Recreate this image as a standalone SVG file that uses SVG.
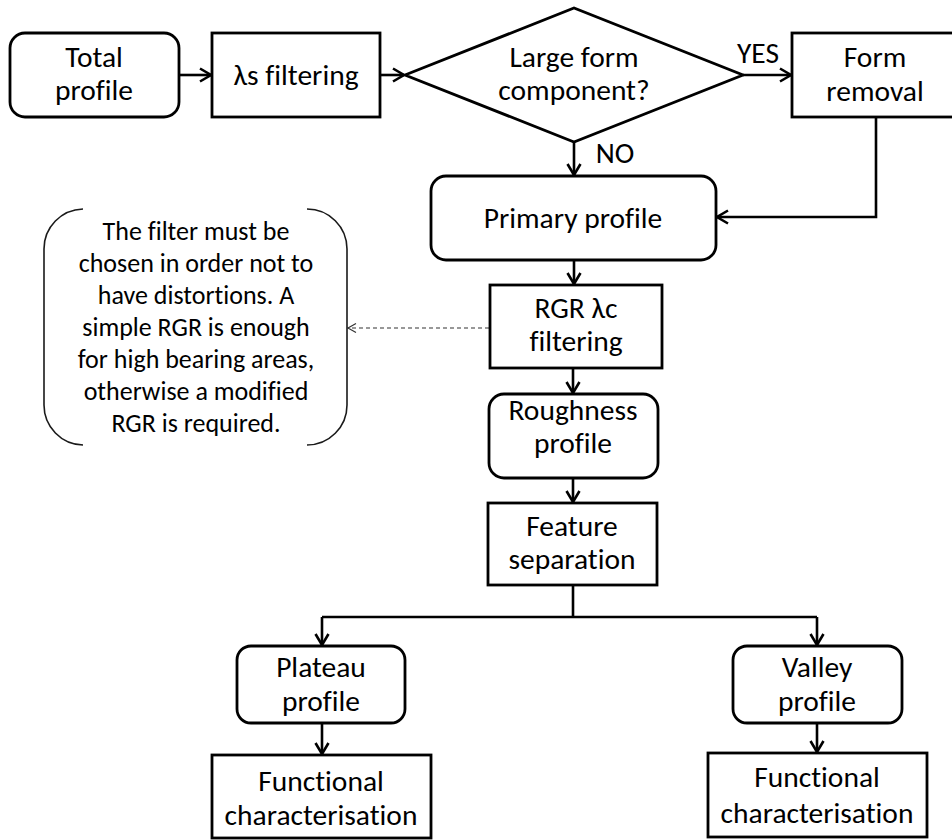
<svg xmlns="http://www.w3.org/2000/svg" width="952" height="840" viewBox="0 0 952 840">
  <style>
    .box { fill: #ffffff; stroke: #000000; stroke-width: 2.8; }
    .lbl { font-family: Carlito, Lato, "Liberation Sans", sans-serif; font-size: 29.5px; fill: #000000; text-anchor: middle; font-variant-ligatures: none; }
    .ntxt { font-family: Carlito, Lato, "Liberation Sans", sans-serif; font-size: 26px; fill: #000000; text-anchor: middle; font-variant-ligatures: none; }
    .edge { fill: none; stroke: #000000; stroke-width: 2.6; }
    .note { fill: none; stroke: #1a1a1a; stroke-width: 1.6; }
    .dash { fill: none; stroke: #333333; stroke-width: 1.2; stroke-dasharray: 4 3; }
  </style>
  <defs>
    <marker id="arrow" markerUnits="userSpaceOnUse" viewBox="-14 -9 16 18" refX="0" refY="0" markerWidth="16" markerHeight="18" orient="auto" overflow="visible">
      <path d="M-11,-6.5 L0,0 L-11,6.5" fill="none" stroke="#000000" stroke-width="2.6" stroke-linejoin="miter"/>
    </marker>
    <marker id="arrowThin" markerUnits="userSpaceOnUse" viewBox="-10 -6 12 12" refX="0" refY="0" markerWidth="12" markerHeight="12" orient="auto" overflow="visible">
      <path d="M-8,-4.5 L0,0 L-8,4.5" fill="none" stroke="#333333" stroke-width="1.2"/>
    </marker>
  </defs>
  <rect width="952" height="840" fill="#ffffff"/>

  <!-- connectors -->
  <g id="connectors">
    <line class="edge" x1="179" y1="75" x2="211" y2="75" marker-end="url(#arrow)"/>
    <line class="edge" x1="380" y1="75" x2="404" y2="75" marker-end="url(#arrow)"/>
    <line class="edge" x1="743" y1="75" x2="791" y2="75" marker-end="url(#arrow)"/>
    <line class="edge" x1="574" y1="142" x2="574" y2="175" marker-end="url(#arrow)"/>
    <path class="edge" d="M876,117 V217 H717" marker-end="url(#arrow)"/>
    <line class="edge" x1="574" y1="260" x2="574" y2="284" marker-end="url(#arrow)"/>
    <line class="dash" x1="489" y1="328" x2="348" y2="328" marker-end="url(#arrowThin)"/>
    <line class="edge" x1="573" y1="368" x2="573" y2="393" marker-end="url(#arrow)"/>
    <line class="edge" x1="573" y1="478" x2="573" y2="502" marker-end="url(#arrow)"/>
    <path class="edge" d="M573,585 V617"/>
    <path class="edge" d="M322,617 H817"/>
    <line class="edge" x1="322" y1="617" x2="322" y2="645" marker-end="url(#arrow)"/>
    <line class="edge" x1="817" y1="617" x2="817" y2="645" marker-end="url(#arrow)"/>
    <line class="edge" x1="322" y1="723" x2="322" y2="754" marker-end="url(#arrow)"/>
    <line class="edge" x1="817" y1="723" x2="817" y2="752" marker-end="url(#arrow)"/>
  </g>

  <g id="total-profile">
    <rect class="box" x="10" y="33" width="169" height="84" rx="15"/>
    <text class="lbl" x="94" y="67">Total</text>
    <text class="lbl" x="94" y="100">profile</text>
  </g>

  <g id="ls-filtering">
    <rect class="box" x="212" y="33" width="168" height="84"/>
    <text class="lbl" x="296" y="85">λs filtering</text>
  </g>

  <g id="large-form">
    <polygon class="box" points="405,75 574,8 743,75 574,142"/>
    <text class="lbl" x="574" y="67">Large form</text>
    <text class="lbl" x="574" y="100">component?</text>
  </g>

  <g id="yes-label">
    <text class="lbl" x="758" y="63">YES</text>
  </g>
  <g id="no-label">
    <text class="lbl" x="615" y="163">NO</text>
  </g>

  <g id="form-removal">
    <rect class="box" x="792" y="33" width="166" height="84"/>
    <text class="lbl" x="875" y="67">Form</text>
    <text class="lbl" x="875" y="101">removal</text>
  </g>

  <g id="primary-profile">
    <rect class="box" x="431" y="176" width="285" height="84" rx="15"/>
    <text class="lbl" x="573" y="228">Primary profile</text>
  </g>

  <g id="note">
    <path class="note" d="M83,209 A40,40 0 0 0 44,249 L44,405 A40,40 0 0 0 83,445"/>
    <path class="note" d="M307,209 A40,40 0 0 1 347,249 L347,405 A40,40 0 0 1 307,445"/>
    <text class="ntxt" x="196" y="240">The filter must be</text>
    <text class="ntxt" x="196" y="272">chosen in order not to</text>
    <text class="ntxt" x="196" y="304">have distortions. A</text>
    <text class="ntxt" x="196" y="336">simple RGR is enough</text>
    <text class="ntxt" x="196" y="368">for high bearing areas,</text>
    <text class="ntxt" x="196" y="400">otherwise a modified</text>
    <text class="ntxt" x="196" y="432">RGR is required.</text>
  </g>

  <g id="rgr-filtering">
    <rect class="box" x="490" y="285" width="172" height="83"/>
    <text class="lbl" x="576" y="318">RGR λc</text>
    <text class="lbl" x="576" y="351">filtering</text>
  </g>

  <g id="roughness-profile">
    <rect class="box" x="489" y="394" width="169" height="84" rx="15"/>
    <text class="lbl" x="573" y="420">Roughness</text>
    <text class="lbl" x="573" y="453">profile</text>
  </g>

  <g id="feature-separation">
    <rect class="box" x="488" y="503" width="169" height="82"/>
    <text class="lbl" x="572" y="536">Feature</text>
    <text class="lbl" x="572" y="569">separation</text>
  </g>

  <g id="plateau-profile">
    <rect class="box" x="237" y="646" width="168" height="77" rx="14"/>
    <text class="lbl" x="321" y="677">Plateau</text>
    <text class="lbl" x="321" y="711">profile</text>
  </g>

  <g id="valley-profile">
    <rect class="box" x="733" y="646" width="169" height="77" rx="14"/>
    <text class="lbl" x="817" y="677">Valley</text>
    <text class="lbl" x="817" y="711">profile</text>
  </g>

  <g id="functional-plateau">
    <rect class="box" x="212" y="755" width="219" height="83"/>
    <text class="lbl" x="321" y="791">Functional</text>
    <text class="lbl" x="321" y="825">characterisation</text>
  </g>

  <g id="functional-valley">
    <rect class="box" x="708" y="753" width="219" height="84"/>
    <text class="lbl" x="817" y="787">Functional</text>
    <text class="lbl" x="817" y="823">characterisation</text>
  </g>
</svg>
